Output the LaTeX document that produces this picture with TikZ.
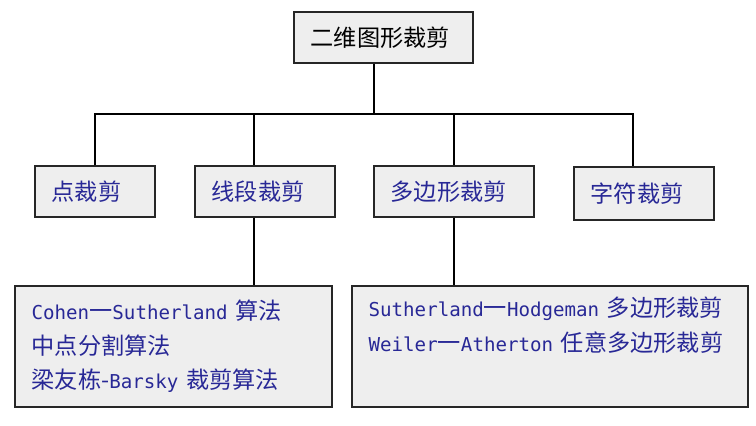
\documentclass[tikz,border=0pt]{standalone}
\usepackage{fontspec}
\setmainfont{Noto Sans CJK SC}
\newfontfamily\latinmono[Scale=0.825]{DejaVu Sans Mono}
\usepackage{tikz}
\usetikzlibrary{positioning}
\definecolor{boxgray}{RGB}{238,238,238}
\definecolor{textblue}{RGB}{40,40,150}
\newcommand{\en}[1]{{\latinmono #1}}

\begin{document}
\begin{tikzpicture}[x=0.03cm,y=-0.03cm,on grid,
    box/.style={draw=black!85,line width=1.2pt,fill=boxgray,align=left,
      inner xsep=0.5cm,inner ysep=0pt,minimum height=1.53cm,
      font=\fontsize{19.8}{29.4}\selectfont},
    leaf/.style={box,text=textblue},
    link/.style={line width=1.2pt,black}]
      \useasboundingbox (0,0) rectangle (756,426);
      \node[box,text width=4.37cm] (top) at (383.5,37.5) {二维图形裁剪};
      \node[leaf,text width=2.6cm] (pt) at (95,191.5) {点裁剪};
      \node[leaf,text width=3.2cm] (seg) [right=5.1cm of pt] {线段裁剪};
      \node[leaf,text width=3.8cm] (poly) [right=5.67cm of seg] {多边形裁剪};
      \node[leaf,text width=3.2cm,minimum height=1.59cm] (chr) at (644,193.5) {字符裁剪};
      \node[leaf,text width=8.51cm,minimum height=3.63cm] (lalg) at (173.5,346.5)
        {\en{Cohen}一\en{Sutherland} 算法\\
         中点分割算法\\
         梁友栋-\en{Barsky} 裁剪算法};
      \node[leaf,text width=10.88cm,minimum height=3.63cm] (palg) at (550,346.5)
        {\en{Sutherland}一\en{Hodgeman} 多边形裁剪\\
         \en{Weiler}一\en{Atherton} 任意多边形裁剪\\ \strut};
      \coordinate (bus) at (374,114);
      \draw[link] (bus |- top.south) -- (bus);
      \draw[link] (pt.north) |- (bus) -| ([xshift=-0.33cm]chr.north);
      \draw[link] (bus) -| ([xshift=-0.33cm]seg.north);
      \draw[link] (bus) -| (poly.north);
      \draw[link] ([xshift=-0.33cm]seg.south) -- ([xshift=-0.33cm]seg.south |- lalg.north);
      \draw[link] (poly.south) -- (poly.south |- palg.north);
\end{tikzpicture}
\end{document}
